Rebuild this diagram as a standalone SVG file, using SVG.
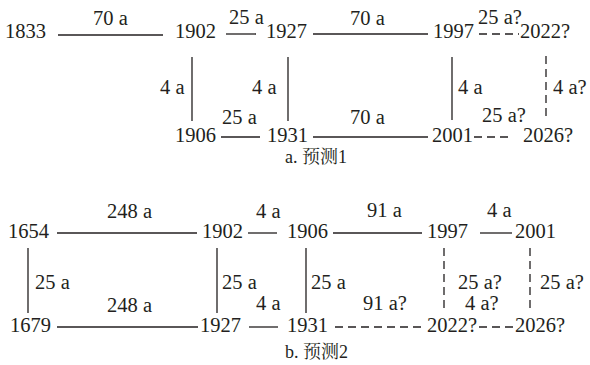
<svg xmlns="http://www.w3.org/2000/svg" width="590" height="365" viewBox="0 0 590 365">
<style>
text{font-family:"Liberation Serif","Noto Serif CJK SC","Noto Sans CJK SC",serif;font-size:20.5px;fill:#231f20}
.cap{font-size:18px}
.s{stroke:#231f20;stroke-width:1.3;fill:none}
.d{stroke:#231f20;stroke-width:1.3;fill:none;stroke-dasharray:8 5}
</style>
<rect width="590" height="365" fill="#fff"/>
<g id="connectors">
<line class="s" x1="58" y1="35" x2="163" y2="35"/>
<line class="s" x1="226" y1="34" x2="256" y2="34"/>
<line class="s" x1="313" y1="34" x2="428" y2="34"/>
<line class="d" x1="479" y1="34" x2="519" y2="34"/>
<line class="s" x1="192" y1="57" x2="192" y2="121"/>
<line class="s" x1="288" y1="57" x2="288" y2="121"/>
<line class="s" x1="452" y1="57" x2="452" y2="120"/>
<line class="d" x1="546" y1="56" x2="546" y2="120"/>
<line class="s" x1="221" y1="137" x2="260" y2="137"/>
<line class="s" x1="313" y1="137" x2="428" y2="137"/>
<line class="d" x1="474" y1="137" x2="513" y2="137"/>
<line class="s" x1="57" y1="233" x2="197" y2="233"/>
<line class="s" x1="248" y1="233" x2="277" y2="233"/>
<line class="s" x1="333" y1="233" x2="422" y2="233"/>
<line class="s" x1="480" y1="233" x2="512" y2="233"/>
<line class="s" x1="28" y1="248" x2="28" y2="313"/>
<line class="s" x1="217" y1="248" x2="217" y2="313"/>
<line class="s" x1="306" y1="248" x2="306" y2="313"/>
<line class="d" x1="444" y1="248" x2="444" y2="310"/>
<line class="d" x1="530" y1="248" x2="530" y2="310"/>
<line class="s" x1="57" y1="327" x2="198" y2="327"/>
<line class="s" x1="249" y1="327" x2="278" y2="327"/>
<line class="d" x1="335" y1="327" x2="425" y2="327"/>
<line class="d" x1="479" y1="327" x2="513" y2="327"/>
</g>
<g id="labels-a">
<text x="93" y="25">70 a</text>
<text x="229" y="24">25 a</text>
<text x="350" y="25">70 a</text>
<text x="478" y="24">25 a?</text>
<text x="160" y="94">4 a</text>
<text x="252" y="94">4 a</text>
<text x="458" y="94">4 a</text>
<text x="553" y="94">4 a?</text>
<text x="222" y="124">25 a</text>
<text x="350" y="124">70 a</text>
<text x="482" y="122">25 a?</text>
</g>
<g id="a1833"><text x="5" y="38">1833</text></g>
<g id="a1902"><text x="175" y="38">1902</text></g>
<g id="a1927"><text x="266" y="38">1927</text></g>
<g id="a1997"><text x="433" y="38">1997</text></g>
<g id="a2022"><text x="520" y="38">2022?</text></g>
<g id="a1906"><text x="175" y="142">1906</text></g>
<g id="a1931"><text x="267" y="142">1931</text></g>
<g id="a2001"><text x="432" y="142">2001</text></g>
<g id="a2026"><text x="523" y="142">2026?</text></g>
<text class="cap" x="285" y="163">a. 预测1</text>
<g id="labels-b">
<text x="107" y="218">248 a</text>
<text x="256" y="218">4 a</text>
<text x="367" y="217">91 a</text>
<text x="487" y="217">4 a</text>
<text x="35" y="289">25 a</text>
<text x="222" y="289">25 a</text>
<text x="311" y="289">25 a</text>
<text x="458" y="289">25 a?</text>
<text x="540" y="289">25 a?</text>
<text x="107" y="312">248 a</text>
<text x="256" y="310">4 a</text>
<text x="363" y="310">91 a?</text>
<text x="465" y="310">4 a?</text>
</g>
<g id="b1654"><text x="8" y="238">1654</text></g>
<g id="b1902"><text x="202" y="238">1902</text></g>
<g id="b1906"><text x="287" y="238">1906</text></g>
<g id="b1997"><text x="427" y="238">1997</text></g>
<g id="b2001"><text x="515" y="238">2001</text></g>
<g id="b1679"><text x="10" y="332">1679</text></g>
<g id="b1927"><text x="200" y="332">1927</text></g>
<g id="b1931"><text x="287" y="332">1931</text></g>
<g id="b2022"><text x="427" y="332">2022?</text></g>
<g id="b2026"><text x="515" y="332">2026?</text></g>
<text class="cap" x="285" y="358">b. 预测2</text>
</svg>
